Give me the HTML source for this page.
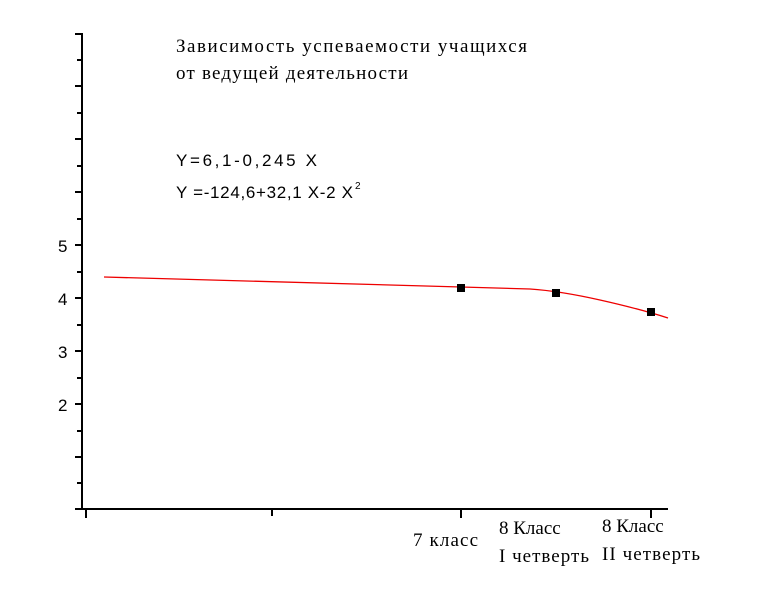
<!DOCTYPE html><html><head><meta charset="utf-8"><style>body{margin:0;background:#fff}</style></head><body>
<svg width="758" height="596" xmlns="http://www.w3.org/2000/svg">
<g stroke="#000" stroke-width="2" fill="none">
<line x1="82" y1="33" x2="82" y2="510"/>
<line x1="81" y1="509" x2="668" y2="509"/>
<path d="M75 34H82M77 60H82M75 86H82M77 113H82M75 139H82M77 166H82M75 192H82M77 219H82M75 245H82M77 272H82M75 298H82M77 325H82M75 351H82M77 378H82M75 404H82M77 431H82M75 457H82M77 483H82M75 509H82"/>
<path d="M86 509V518M272 509V516M461 509V518M651 509V518"/>
</g>
<g font-family="Liberation Sans, sans-serif" font-size="17" fill="#000">
<text x="58" y="252">5</text><text x="58" y="305">4</text><text x="58" y="358">3</text><text x="58" y="411">2</text>
<text x="176" y="166" font-size="17" textLength="141">Y=6,1-0,245 X</text>
<text x="176" y="198" font-size="17" textLength="177">Y =-124,6+32,1 X-2 X</text>
<text x="355" y="189" font-size="10">2</text>
</g>
<g font-family="Liberation Serif, serif" font-size="19" fill="#000">
<text x="176" y="52" textLength="351">Зависимость успеваемости учащихся</text>
<text x="176" y="79" textLength="232">от ведущей деятельности</text>
<text x="413" y="546" textLength="65">7 класс</text>
<text x="499" y="534">8 Класс</text><text x="499" y="562" textLength="90">I четверть</text>
<text x="602" y="532">8 Класс</text><text x="602" y="560" textLength="98">II четверть</text>
</g>
<path d="M104 277 L461 287 L530 289 Q560 291 600 300 Q640 309 668 318" stroke="#e00" stroke-width="1.3" fill="none"/>
<g fill="#000"><rect x="457" y="284" width="8" height="8"/><rect x="552" y="289" width="8" height="8"/><rect x="647" y="308" width="8" height="8"/></g>
</svg></body></html>
